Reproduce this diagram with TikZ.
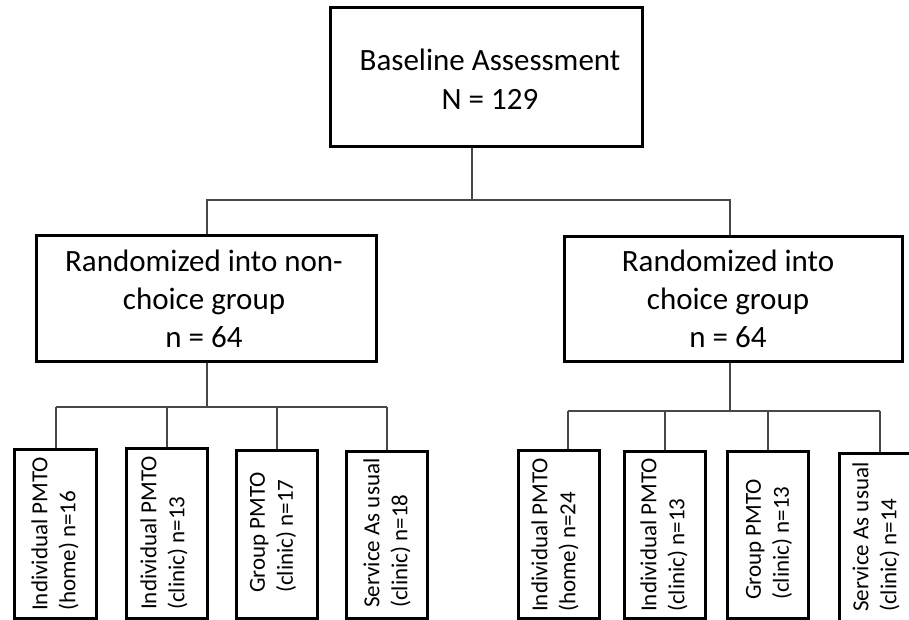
\documentclass[tikz,border=0pt]{standalone}
\usepackage{fontspec}
\setmainfont{Carlito}
\begin{document}
\begin{tikzpicture}[x=1pt,y=-1pt,
  box/.style={draw=black, line width=3pt, inner sep=0pt},
  conn/.style={draw=black!72, line width=1.3pt},
  bigtext/.style={font=\fontsize{31}{38}\selectfont, align=center, inner sep=0pt},
  toptext/.style={font=\fontsize{31}{39}\selectfont, align=center, inner sep=0pt},
  smalltext/.style={font=\fontsize{23}{28}\selectfont, align=left, rotate=90, anchor=west, inner sep=0pt}]
\useasboundingbox (0,0) rectangle (909,620);
\clip (0,0) rectangle (909,620);
\fill[white] (0,0) rectangle (909,620);

% boxes
\node[box, minimum width=312pt, minimum height=139pt] (top) at (486,77.5) {};
\node[box, minimum width=340pt, minimum height=126pt] (L) at (206,298) {};
\node[box, minimum width=338pt, minimum height=125pt] (R) at (733,298.5) {};

\node[box, minimum width=82pt, minimum height=169pt] (b1) at (55,533.5) {};
\node[box, minimum width=81pt, minimum height=170pt] (b2) at (166.5,533) {};
\node[box, minimum width=81pt, minimum height=168pt] (b3) at (276.5,534) {};
\node[box, minimum width=81pt, minimum height=167pt] (b4) at (386.5,534.5) {};
\node[box, minimum width=81pt, minimum height=168pt] (b5) at (558.5,534) {};
\node[box, minimum width=81pt, minimum height=167pt] (b6) at (664.5,534.5) {};
\node[box, minimum width=81pt, minimum height=167pt] (b7) at (767.5,534.5) {};
\node[box, minimum width=81pt, minimum height=177pt] (b8) at (879.5,541.5) {};

% texts
\node[toptext] (t0) at (490,79) {Baseline Assessment\\N = 129};
\node[bigtext] (tL) at (204,299) {Randomized into non-\\choice group\\n = 64};
\node[bigtext] (tR) at (728,299) {Randomized into\\choice group\\n = 64};

\node[smalltext] (s1) at (55,611) {Individual PMTO\\(home) n=16};
\node[smalltext] (s2) at (164,610) {Individual PMTO\\(clinic) n=13};
\node[smalltext] (s3) at (273,593) {Group PMTO\\(clinic) n=17};
\node[smalltext] (s4) at (387,608) {Service As usual\\(clinic) n=18};
\node[smalltext] (s5) at (555,612) {Individual PMTO\\(home) n=24};
\node[smalltext] (s6) at (664,612) {Individual PMTO\\(clinic) n=13};
\node[smalltext] (s7) at (769,600) {Group PMTO\\(clinic) n=13};
\node[smalltext] (s8) at (876,612) {Service As usual\\(clinic) n=14};

% connectors
\coordinate (j0) at (472,200);
\coordinate (jL) at (207,200);
\coordinate (jR) at (730,200);
\draw[conn] (j0 |- top.south) -- (j0);
\draw[conn] (jL |- L.north) -- (jL) -- (jR) -- (jR |- R.north);

\coordinate (kL) at (207,407);
\coordinate (c1) at (56,407);
\coordinate (c2) at (167,407);
\coordinate (c3) at (277,407);
\coordinate (c4) at (387,407);
\draw[conn] (kL |- L.south) -- (kL);
\draw[conn] (c1) -- (c4);
\draw[conn] (c1) -- (c1 |- b1.north);
\draw[conn] (c2) -- (c2 |- b2.north);
\draw[conn] (c3) -- (c3 |- b3.north);
\draw[conn] (c4) -- (c4 |- b4.north);

\coordinate (kR) at (730,411);
\coordinate (c5) at (568,411);
\coordinate (c6) at (665,411);
\coordinate (c7) at (768,411);
\coordinate (c8) at (880,411);
\draw[conn] (kR |- R.south) -- (kR);
\draw[conn] (c5) -- (c8);
\draw[conn] (c5) -- (c5 |- b5.north);
\draw[conn] (c6) -- (c6 |- b6.north);
\draw[conn] (c7) -- (c7 |- b7.north);
\draw[conn] (c8) -- (c8 |- b8.north);
\end{tikzpicture}
\end{document}
